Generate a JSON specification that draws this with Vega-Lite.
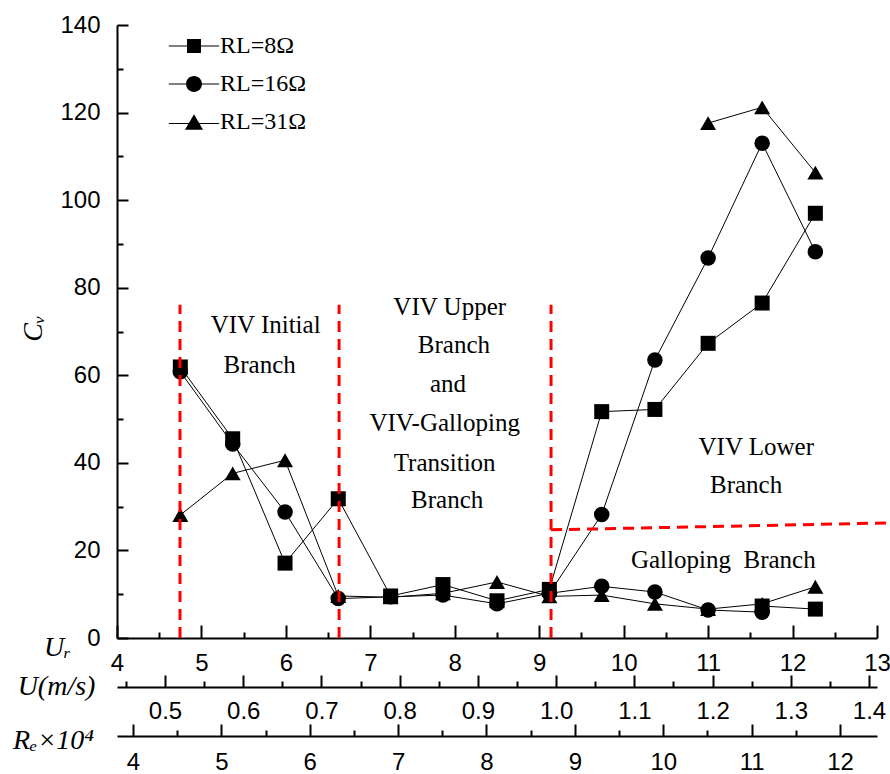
{
  "$schema": "https://vega.github.io/schema/vega-lite/v6.json",
  "width": 760,
  "height": 613,
  "autosize": {"type": "none"},
  "padding": {"left": 117, "top": 25, "right": 13, "bottom": 136},
  "background": "white",
  "config": {
    "view": {"stroke": null},
    "axis": {
      "domainColor": "black", "domainWidth": 2, "tickColor": "black", "tickWidth": 2, "ticks": true,
      "labelFont": "Liberation Sans", "labelFontSize": 24, "labelColor": "black",
      "grid": false, "labelFlush": false, "labelOverlap": false,
      "titleFont": "Liberation Serif", "titleFontStyle": "italic", "titleFontWeight": "normal", "titleColor": "black",
      "titleFontSize": 28, "titleAlign": "center", "titleBaseline": "middle"
    }
  },
  "datasets": {
    "pts": [
      {"series": "8Ω", "seg": "a8", "Ur": 4.75, "Cv": 61.9},
      {"series": "8Ω", "seg": "a8", "Ur": 5.37, "Cv": 45.5},
      {"series": "8Ω", "seg": "a8", "Ur": 5.99, "Cv": 17.1},
      {"series": "8Ω", "seg": "a8", "Ur": 6.62, "Cv": 31.8},
      {"series": "8Ω", "seg": "a8", "Ur": 7.24, "Cv": 9.6},
      {"series": "8Ω", "seg": "a8", "Ur": 7.86, "Cv": 12.2},
      {"series": "8Ω", "seg": "a8", "Ur": 8.50, "Cv": 8.5},
      {"series": "8Ω", "seg": "a8", "Ur": 9.12, "Cv": 11.1},
      {"series": "8Ω", "seg": "a8", "Ur": 9.74, "Cv": 51.7},
      {"series": "8Ω", "seg": "a8", "Ur": 10.37, "Cv": 52.2},
      {"series": "8Ω", "seg": "a8", "Ur": 11.00, "Cv": 67.3},
      {"series": "8Ω", "seg": "a8", "Ur": 11.64, "Cv": 76.5},
      {"series": "8Ω", "seg": "a8", "Ur": 12.27, "Cv": 97.0},
      {"series": "8Ω", "seg": "b8", "Ur": 11.64, "Cv": 7.3},
      {"series": "8Ω", "seg": "b8", "Ur": 12.27, "Cv": 6.6},
      {"series": "16Ω", "seg": "a16", "Ur": 4.75, "Cv": 60.8},
      {"series": "16Ω", "seg": "a16", "Ur": 5.37, "Cv": 44.3},
      {"series": "16Ω", "seg": "a16", "Ur": 5.99, "Cv": 28.8},
      {"series": "16Ω", "seg": "a16", "Ur": 6.62, "Cv": 9.0},
      {"series": "16Ω", "seg": "a16", "Ur": 7.24, "Cv": 9.4},
      {"series": "16Ω", "seg": "a16", "Ur": 7.86, "Cv": 9.8},
      {"series": "16Ω", "seg": "a16", "Ur": 8.50, "Cv": 7.8},
      {"series": "16Ω", "seg": "a16", "Ur": 9.12, "Cv": 10.2},
      {"series": "16Ω", "seg": "a16", "Ur": 9.74, "Cv": 28.2},
      {"series": "16Ω", "seg": "a16", "Ur": 10.37, "Cv": 63.5},
      {"series": "16Ω", "seg": "a16", "Ur": 11.00, "Cv": 86.8},
      {"series": "16Ω", "seg": "a16", "Ur": 11.64, "Cv": 113.0},
      {"series": "16Ω", "seg": "a16", "Ur": 12.27, "Cv": 88.2},
      {"series": "16Ω", "seg": "b16", "Ur": 9.12, "Cv": 10.2},
      {"series": "16Ω", "seg": "b16", "Ur": 9.74, "Cv": 11.8},
      {"series": "16Ω", "seg": "b16", "Ur": 10.37, "Cv": 10.5},
      {"series": "16Ω", "seg": "b16", "Ur": 11.00, "Cv": 6.4},
      {"series": "16Ω", "seg": "b16", "Ur": 11.64, "Cv": 5.9},
      {"series": "31Ω", "seg": "a31", "Ur": 4.75, "Cv": 28.1},
      {"series": "31Ω", "seg": "a31", "Ur": 5.37, "Cv": 37.6},
      {"series": "31Ω", "seg": "a31", "Ur": 5.99, "Cv": 40.6},
      {"series": "31Ω", "seg": "a31", "Ur": 6.62, "Cv": 9.6},
      {"series": "31Ω", "seg": "a31", "Ur": 7.24, "Cv": 9.3},
      {"series": "31Ω", "seg": "a31", "Ur": 7.86, "Cv": 10.2},
      {"series": "31Ω", "seg": "a31", "Ur": 8.50, "Cv": 12.8},
      {"series": "31Ω", "seg": "a31", "Ur": 9.12, "Cv": 9.5},
      {"series": "31Ω", "seg": "a31", "Ur": 9.74, "Cv": 9.8},
      {"series": "31Ω", "seg": "a31", "Ur": 10.37, "Cv": 7.8},
      {"series": "31Ω", "seg": "a31", "Ur": 11.00, "Cv": 6.6},
      {"series": "31Ω", "seg": "a31", "Ur": 11.64, "Cv": 7.8},
      {"series": "31Ω", "seg": "a31", "Ur": 12.27, "Cv": 11.7},
      {"series": "31Ω", "seg": "b31", "Ur": 11.00, "Cv": 117.6},
      {"series": "31Ω", "seg": "b31", "Ur": 11.64, "Cv": 121.2},
      {"series": "31Ω", "seg": "b31", "Ur": 12.27, "Cv": 106.3}
    ],
    "ann": [
      {"label": "VIV Initial", "Ur": 5.76, "Cv": 71.5},
      {"label": "Branch", "Ur": 5.69, "Cv": 62.4},
      {"label": "VIV Upper", "Ur": 7.94, "Cv": 75.7},
      {"label": "Branch", "Ur": 7.99, "Cv": 67.0},
      {"label": "and", "Ur": 7.92, "Cv": 58.1},
      {"label": "VIV-Galloping", "Ur": 7.88, "Cv": 49.1},
      {"label": "Transition", "Ur": 7.88, "Cv": 40.0},
      {"label": "Branch", "Ur": 7.91, "Cv": 31.5},
      {"label": "VIV Lower", "Ur": 11.57, "Cv": 43.7},
      {"label": "Branch", "Ur": 11.45, "Cv": 35.0},
      {"label": "Galloping\u00a0 Branch", "Ur": 11.18, "Cv": 17.8}
    ],
    "red": [
      {"Ur": 4.746, "Cv": 0, "Ur2": 4.746, "Cv2": 76.1},
      {"Ur": 6.63, "Cv": 0, "Ur2": 6.63, "Cv2": 76.1},
      {"Ur": 9.14, "Cv": 0, "Ur2": 9.14, "Cv2": 76.1},
      {"Ur": 9.14, "Cv": 24.7, "Ur2": 13.15, "Cv2": 26.3}
    ]
  },
  "layer": [
    {
      "encoding": {
        "x": {
          "field": "Ur", "type": "quantitative",
          "scale": {"domain": [4, 13], "nice": false, "zero": false},
          "axis": {
            "orient": "bottom",
            "values": [4, 5, 6, 7, 8, 9, 10, 11, 12, 13],
            "format": "d", "tickSize": -13, "labelPadding": 26,
            "title": "Uᵣ", "titleX": -60, "titleY": 9, "titleAngle": 0
          }
        },
        "y": {
          "field": "Cv", "type": "quantitative",
          "scale": {"domain": [0, 140], "nice": false, "zero": false},
          "axis": {
            "orient": "left",
            "values": [0, 20, 40, 60, 80, 100, 120, 140],
            "format": "d", "tickSize": -11, "labelPadding": 28,
            "title": "Cᵥ", "titleX": -84, "titleY": 303, "titleAngle": -90
          }
        }
      },
      "layer": [
        {
          "data": {"name": "pts"},
          "mark": {"type": "line", "color": "black", "strokeWidth": 1},
          "encoding": {"detail": {"field": "seg"}, "order": {"field": "Ur", "type": "quantitative"}}
        },
        {
          "data": {"name": "pts"},
          "mark": {"type": "point", "filled": true, "color": "black", "opacity": 1, "strokeWidth": 0},
          "encoding": {
            "shape": {"field": "series", "type": "nominal", "scale": {"domain": ["8Ω", "16Ω", "31Ω"], "range": ["square", "circle", "triangle-up"]}, "legend": null},
            "size": {"field": "series", "type": "nominal", "scale": {"domain": ["8Ω", "16Ω", "31Ω"], "range": [225, 256, 324]}, "legend": null}
          }
        },
        {
          "data": {"name": "red"},
          "mark": {"type": "rule", "color": "#ff0000", "strokeWidth": 3, "strokeDash": [11, 7]},
          "encoding": {"x2": {"field": "Ur2"}, "y2": {"field": "Cv2"}}
        },
        {
          "data": {"name": "ann"},
          "mark": {"type": "text", "font": "Liberation Serif", "fontSize": 25, "color": "black", "align": "center", "baseline": "middle"},
          "encoding": {"text": {"field": "label"}}
        },
        {
          "data": {"name": "pts"},
          "transform": [{"filter": "datum.Cv < 0"}],
          "mark": {"type": "point", "filled": true, "color": "black"},
          "encoding": {
            "shape": {
              "field": "series", "type": "nominal",
              "scale": {"domain": ["8Ω", "16Ω", "31Ω"], "range": [
                "M-3.6,-0.07H3.6V0.07H-3.6ZM-1,-1H1V1H-1Z",
                "M-3.6,-0.07H3.6V0.07H-3.6ZM1.14,0A1.14,1.14,0,1,1,-1.14,0A1.14,1.14,0,1,1,1.14,0Z",
                "M-3.6,0.13H3.6V0.27H-3.6ZM0,-1.1L1.29,1.1L-1.29,1.1Z"
              ]},
              "legend": {
                "title": null, "orient": "none", "legendX": 65, "legendY": 9, "padding": 0,
                "symbolSize": 196, "symbolFillColor": "black", "symbolStrokeColor": "black", "symbolStrokeWidth": 0, "symbolOpacity": 1,
                "labelFont": "Liberation Serif", "labelFontSize": 24, "labelColor": "black", "labelOffset": 14,
                "labelExpr": "'RL=' + datum.label", "rowPadding": 14
              }
            }
          }
        }
      ],
      "resolve": {"scale": {"shape": "independent"}, "legend": {"shape": "independent"}}
    },
    {
      "data": {"values": [{"Ur": 5}]},
      "mark": {"type": "point", "opacity": 0},
      "encoding": {
        "x": {
          "field": "Ur", "type": "quantitative",
          "scale": {"domain": [4, 13], "nice": false, "zero": false},
          "axis": {"orient": "bottom", "values": [4.5, 5.5, 6.5, 7.5, 8.5, 9.5, 10.5, 11.5, 12.5], "tickSize": -6, "labels": false, "domain": false, "title": null}
        }
      }
    },
    {
      "data": {"values": [{"Cv": 10}]},
      "mark": {"type": "point", "opacity": 0},
      "encoding": {
        "y": {
          "field": "Cv", "type": "quantitative",
          "scale": {"domain": [0, 140], "nice": false, "zero": false},
          "axis": {"orient": "left", "values": [10, 30, 50, 70, 90, 110, 130], "tickSize": -6, "labels": false, "domain": false, "title": null}
        }
      }
    },
    {
      "data": {"values": [{"U": 0.5}]},
      "mark": {"type": "point", "opacity": 0},
      "encoding": {
        "x": {
          "field": "U", "type": "quantitative",
          "scale": {"domain": [0.4386, 1.4102], "nice": false, "zero": false},
          "axis": {
            "orient": "bottom", "offset": 49,
            "values": [0.5, 0.6, 0.7, 0.8, 0.9, 1.0, 1.1, 1.2, 1.3, 1.4],
            "format": ".1f", "tickSize": -12, "labelPadding": 24,
            "title": "U(m/s)", "titleX": -61, "titleY": -1, "titleAngle": 0
          }
        }
      }
    },
    {
      "data": {"values": [{"U": 0.5}]},
      "mark": {"type": "point", "opacity": 0},
      "encoding": {
        "x": {
          "field": "U", "type": "quantitative",
          "scale": {"domain": [0.4386, 1.4102], "nice": false, "zero": false},
          "axis": {"orient": "bottom", "offset": 49, "values": [0.45, 0.55, 0.65, 0.75, 0.85, 0.95, 1.05, 1.15, 1.25, 1.35], "tickSize": -6, "labels": false, "domain": false, "title": null}
        }
      }
    },
    {
      "data": {"values": [{"Re": 5}]},
      "mark": {"type": "point", "opacity": 0},
      "encoding": {
        "x": {
          "field": "Re", "type": "quantitative",
          "scale": {"domain": [3.819, 12.419], "nice": false, "zero": false},
          "axis": {
            "orient": "bottom", "offset": 98,
            "values": [4, 5, 6, 7, 8, 9, 10, 11, 12],
            "format": "d", "tickSize": -12, "labelPadding": 26,
            "title": "Rₑ×10⁴", "titleX": -64, "titleY": 4, "titleAngle": 0
          }
        }
      }
    },
    {
      "data": {"values": [{"Re": 5}]},
      "mark": {"type": "point", "opacity": 0},
      "encoding": {
        "x": {
          "field": "Re", "type": "quantitative",
          "scale": {"domain": [3.819, 12.419], "nice": false, "zero": false},
          "axis": {"orient": "bottom", "offset": 98, "values": [4.5, 5.5, 6.5, 7.5, 8.5, 9.5, 10.5, 11.5], "tickSize": -6, "labels": false, "domain": false, "title": null}
        }
      }
    }
  ],
  "resolve": {"scale": {"x": "independent", "y": "independent"}, "axis": {"x": "independent", "y": "independent"}}
}
